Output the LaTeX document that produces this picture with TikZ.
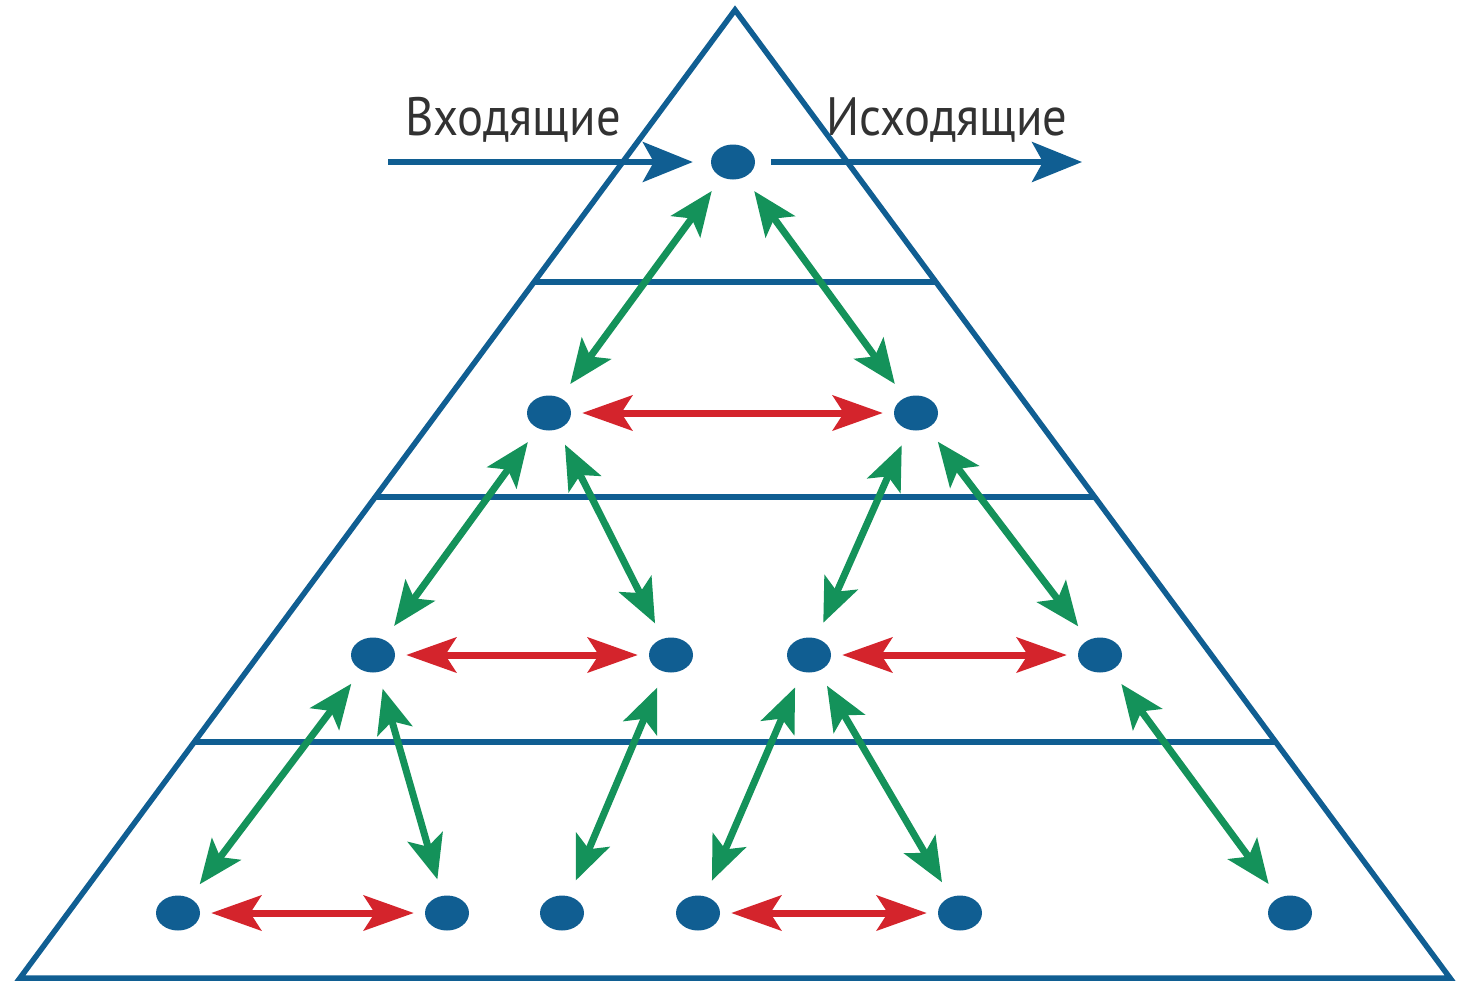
\documentclass[tikz,border=0pt]{standalone}
\usepackage{fontspec}
\newfontfamily\labelfont[FakeStretch=0.9]{PT Sans}
\usetikzlibrary{arrows.meta, calc, shapes.geometric}
\definecolor{pyrblue}{RGB}{16,94,146}
\definecolor{linkgreen}{RGB}{20,146,90}
\definecolor{peerred}{RGB}{212,36,44}
\definecolor{labelgray}{RGB}{50,50,50}

\begin{document}
\begin{tikzpicture}[
    x=1pt, y=-1pt,
    dot/.style={ellipse, fill=pyrblue, minimum width=44pt, minimum height=35pt, inner sep=0pt},
    frame/.style={draw=pyrblue, line width=5.5pt},
    uplink/.style={{Stealth[length=44pt, width=36pt, inset=10pt]}-{Stealth[length=44pt, width=36pt, inset=10pt]}, draw=linkgreen, line width=7pt, shorten <=17pt, shorten >=17pt},
    peerlink/.style={{Stealth[length=50pt, width=35pt, inset=11pt]}-{Stealth[length=50pt, width=35pt, inset=11pt]}, draw=peerred, line width=7pt, shorten <=11pt, shorten >=11pt},
    flow/.style={-{Stealth[length=50pt, width=40pt, inset=11pt]}, draw=pyrblue, line width=5.5pt},
    flowlabel/.style={font=\labelfont\fontsize{54}{58}\selectfont, text=labelgray, inner sep=0pt},
]
\useasboundingbox (0,0) rectangle (1459,988);

\coordinate (apex) at (735,10);
\coordinate (baseL) at (20,978);
\coordinate (baseR) at (1450,978);
\draw[frame, line join=miter] (apex) -- (baseL) -- (baseR) -- cycle;
\foreach \t in {0.281, 0.503, 0.756}
    \draw[frame] ($(apex)!\t!(baseL)$) -- ($(apex)!\t!(baseR)$);

\node[dot] (top) at (733,162) {};
\node[dot] (m1) at (549,413) {};
\node[dot] (m2) at (916,413) {};
\node[dot] (n1) at (373,655) {};
\node[dot] (n2) at (671,655) {};
\node[dot] (n3) at (809,655) {};
\node[dot] (n4) at (1100,655) {};
\node[dot] (b1) at (178,913) {};
\node[dot] (b2) at (447,913) {};
\node[dot] (b3) at (562,913) {};
\node[dot] (b4) at (698,913) {};
\node[dot] (b5) at (960,913) {};
\node[dot] (b6) at (1290,913) {};

\coordinate (inflow) at (388,162);
\coordinate (outflow) at (1082,162);
\draw[flow, shorten >=18pt] (inflow) -- (top);
\draw[flow, shorten <=16pt] (top) -- (outflow);
\node[flowlabel] (inlabel) at (513,120) {Входящие};
\node[flowlabel] (outlabel) at (947,120) {Исходящие};

\draw[uplink] (top) -- (m1);
\draw[uplink] (top) -- (m2);
\draw[uplink] (m1) -- (n1);
\draw[uplink] (m1) -- (n2);
\draw[uplink] (m2) -- (n3);
\draw[uplink] (m2) -- (n4);
\draw[uplink] (n1) -- (b1);
\draw[uplink] (n1) -- (b2);
\draw[uplink] (n2) -- (b3);
\draw[uplink] (n3) -- (b4);
\draw[uplink] (n3) -- (b5);
\draw[uplink] (n4) -- (b6);

\draw[peerlink] (m1) -- (m2);
\draw[peerlink] (n1) -- (n2);
\draw[peerlink] (n3) -- (n4);
\draw[peerlink] (b1) -- (b2);
\draw[peerlink] (b4) -- (b5);
\end{tikzpicture}
\end{document}
